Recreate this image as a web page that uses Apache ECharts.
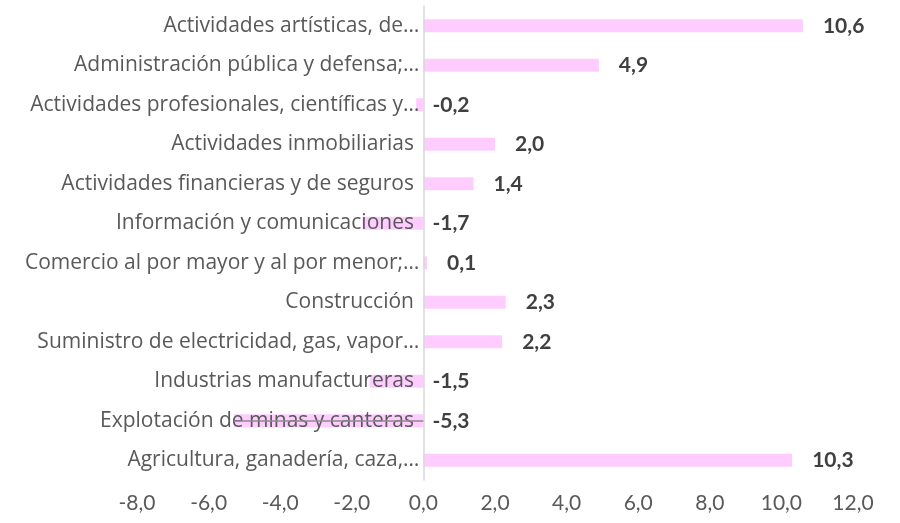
<!DOCTYPE html>
<html>
<head>
<meta charset="utf-8">
<script src="https://cdn.jsdelivr.net/npm/echarts@6/dist/echarts.min.js"></script>
<style>
  html, body { margin: 0; padding: 0; background: #fff; }
  #chart { width: 900px; height: 523px; }
</style>
</head>
<body>
<div id="chart"></div>
<script>
// categories bottom to top (as ECharts draws a category y axis)
const categories = [
  'Agricultura, ganadería, caza,…',
  'Explotación de minas y canteras ',
  'Industrias manufactureras ',
  'Suministro de electricidad, gas, vapor…',
  'Construcción ',
  'Comercio al por mayor y al por menor;…',
  'Información y comunicaciones ',
  'Actividades financieras y de seguros ',
  'Actividades inmobiliarias ',
  'Actividades profesionales, científicas y…',
  'Administración pública y defensa;…',
  'Actividades artísticas, de…'
];
const values = [10.3, -5.3, -1.5, 2.2, 2.3, 0.1, -1.7, 1.4, 2.0, -0.2, 4.9, 10.6];
const xMin = -8;
const xMax = 12;

const fmt = v => v.toFixed(1).replace('.', ',');

const gridLeft = 137;
const gridRight = 47;
const plotWidth = 900 - gridLeft - gridRight;
const zeroOffset = (0 - xMin) / (xMax - xMin) * plotWidth;

const chart = echarts.init(document.getElementById('chart'));

chart.setOption({
  backgroundColor: '#ffffff',
  animation: false,
  grid: {
    left: gridLeft, right: gridRight, top: 6, bottom: 43,
    containLabel: false, outerBoundsMode: 'none'
  },
  xAxis: {
    type: 'value',
    min: xMin,
    max: xMax,
    interval: 2,
    axisLine: { show: false },
    axisTick: { show: false },
    splitLine: { show: false },
    axisLabel: {
      formatter: fmt,
      color: '#595959',
      fontFamily: 'Lato',
      fontSize: 21,
      margin: 13
    }
  },
  yAxis: {
    type: 'category',
    data: categories,
    z: 4,
    offset: -zeroOffset,
    axisLine: { onZero: false, lineStyle: { color: '#d9d9d9', width: 1.5 } },
    axisTick: { show: false },
    axisLabel: {
      color: '#595959',
      fontFamily: 'Open Sans',
      fontSize: 21,
      margin: 4,
      padding: [4, 0, 0, 0]
    }
  },
  series: [
    {
      type: 'bar',
      barWidth: 13,
      itemStyle: { color: '#ffccff' },
      data: values.map(v => ({
        value: v,
        label: {
          show: true,
          position: 'right',
          distance: v < 0 ? 9 : 20,
          formatter: p => fmt(p.value),
          color: '#404040',
          fontWeight: 'bold',
          fontFamily: 'Lato',
          fontSize: 21
        }
      })),
      // thin grey stroke seen across the mining bar in the original
      markLine: {
        silent: true,
        z: 8,
        symbol: 'none',
        label: { show: false },
        lineStyle: { color: '#8c8c8c', width: 1.5, type: 'solid' },
        data: [[
          { coord: [values[1], categories[1]] },
          { coord: [0, categories[1]] }
        ]]
      }
    }
  ]
});
</script>
</body>
</html>
